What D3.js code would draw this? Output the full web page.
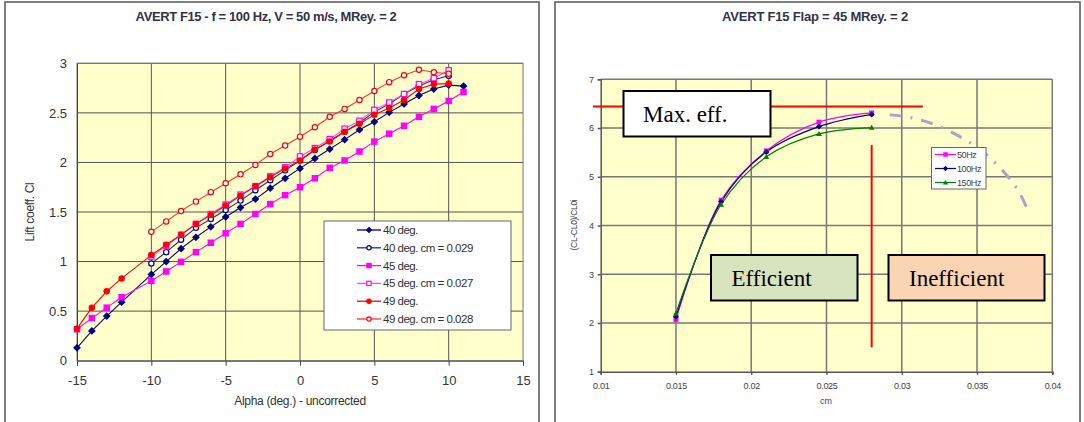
<!DOCTYPE html>
<html>
<head>
<meta charset="utf-8">
<script src="https://cdn.jsdelivr.net/npm/d3@7"></script>
<style>
  body { margin: 0; background: #fff; }
  svg { display: block; font-family: "Liberation Sans", Arial, sans-serif; }
</style>
</head>
<body>
<svg id="chart" width="1084" height="422"></svg>
<script>
// ---- left chart data: Cl vs alpha ----
const alpha40 = [-15, -14, -13, -12, -10, -9, -8, -7, -6, -5, -4, -3, -2, -1, 0, 1, 2, 3, 4, 5, 6, 7, 8, 9, 10, 11];
const cl40 = [0.13, 0.30, 0.45, 0.59, 0.87, 1.00, 1.13, 1.245, 1.35, 1.45, 1.545, 1.63, 1.74, 1.84, 1.94, 2.04, 2.135, 2.23, 2.33, 2.41, 2.505, 2.59, 2.675, 2.74, 2.78, 2.77];

const alpha40cm = [-10, -9, -8, -7, -6, -5, -4, -3, -2, -1, 0, 1, 2, 3, 4, 5, 6, 7, 8, 9, 10];
const cl40cm = [0.98, 1.095, 1.22, 1.34, 1.43, 1.52, 1.615, 1.72, 1.82, 1.92, 2.02, 2.125, 2.22, 2.31, 2.40, 2.51, 2.59, 2.69, 2.77, 2.835, 2.875];

const alpha45 = [-15, -14, -13, -12, -10, -9, -8, -7, -6, -5, -4, -3, -2, -1, 0, 1, 2, 3, 4, 5, 6, 7, 8, 9, 10, 11];
const cl45 = [0.317, 0.43, 0.535, 0.64, 0.805, 0.90, 0.997, 1.095, 1.19, 1.285, 1.38, 1.48, 1.58, 1.67, 1.75, 1.84, 1.945, 2.02, 2.11, 2.21, 2.29, 2.37, 2.46, 2.54, 2.62, 2.71];

const alpha45cm = [-10, -9, -8, -7, -6, -5, -4, -3, -2, -1, 0, 1, 2, 3, 4, 5, 6, 7, 8, 9, 10];
const cl45cm = [1.05, 1.16, 1.27, 1.38, 1.48, 1.575, 1.675, 1.76, 1.86, 1.95, 2.06, 2.145, 2.235, 2.34, 2.42, 2.53, 2.605, 2.69, 2.79, 2.85, 2.93];

const alpha49 = [-15, -14, -13, -12, -10, -9, -8, -7, -6, -5, -4, -3, -2, -1, 0, 1, 2, 3, 4, 5, 6, 7, 8, 9, 10];
const cl49 = [0.323, 0.535, 0.70, 0.83, 1.065, 1.17, 1.27, 1.38, 1.47, 1.565, 1.665, 1.76, 1.85, 1.94, 2.02, 2.13, 2.21, 2.31, 2.39, 2.48, 2.55, 2.63, 2.74, 2.79, 2.795];

const alpha49cm = [-10, -9, -8, -7, -6, -5, -4, -3, -2, -1, 0, 1, 2, 3, 4, 5, 6, 7, 8, 9, 10];
const cl49cm = [1.30, 1.405, 1.51, 1.605, 1.70, 1.79, 1.88, 1.975, 2.085, 2.17, 2.26, 2.355, 2.46, 2.54, 2.63, 2.72, 2.81, 2.88, 2.935, 2.91, 2.895];

const leftXTicks = [-15, -10, -5, 0, 5, 10, 15];
const leftYTicks = [0, 0.5, 1, 1.5, 2, 2.5, 3];

// ---- right chart data: efficiency vs cm ----
const cmValues = [0.015, 0.018, 0.021, 0.0245, 0.028];
const eff50 = [2.07, 4.52, 5.53, 6.12, 6.31];
const eff100 = [2.13, 4.49, 5.51, 6.03, 6.28];
const eff150 = [2.20, 4.43, 5.41, 5.88, 6.01];

// hand-drawn trend beyond max efficiency
const trendCm = [0.0292, 0.0305, 0.0323, 0.0341, 0.0356, 0.0370, 0.0378, 0.0384];
const trendEff = [6.27, 6.22, 6.06, 5.78, 5.46, 5.02, 4.68, 4.30];

const maxEffLevel = 6.44;
const optimumCm = 0.028;

const rightXTicks = [0.01, 0.015, 0.02, 0.025, 0.03, 0.035, 0.04];
const rightYTicks = [1, 2, 3, 4, 5, 6, 7];

const svg = d3.select("#chart");

// panel frames
svg.append("path").attr("d", "M5,422 V2 H539 V422")
  .attr("fill", "none").attr("stroke", "#555").attr("stroke-width", 1.5);
svg.append("path").attr("d", "M555,422 V2 H1080 V422")
  .attr("fill", "none").attr("stroke", "#555").attr("stroke-width", 1.5);

// marker helper
function marker(g, type, x, y, color, size) {
  if (type === "diamond") {
    const r = size * 0.6;
    g.append("path").attr("d", `M${x},${y - r}L${x + r},${y}L${x},${y + r}L${x - r},${y}Z`)
      .attr("fill", color);
  } else if (type === "square") {
    g.append("rect").attr("x", x - size / 2).attr("y", y - size / 2)
      .attr("width", size).attr("height", size).attr("fill", color);
  } else if (type === "osquare") {
    g.append("rect").attr("x", x - size / 2 + 0.6).attr("y", y - size / 2 + 0.6)
      .attr("width", size - 1.2).attr("height", size - 1.2).attr("fill", "#fff")
      .attr("stroke", color).attr("stroke-width", 1.2);
  } else if (type === "circle") {
    g.append("circle").attr("cx", x).attr("cy", y).attr("r", size / 2).attr("fill", color);
  } else if (type === "ocircle") {
    g.append("circle").attr("cx", x).attr("cy", y).attr("r", size / 2 - 0.6)
      .attr("fill", "#fff").attr("stroke", color).attr("stroke-width", 1.2);
  } else if (type === "triangle") {
    g.append("path").attr("d", d3.symbol(d3.symbolTriangle, size * size * 0.6)())
      .attr("transform", `translate(${x},${y + 0.5})`).attr("fill", color);
  }
}

// ================= LEFT CHART =================
{
  const x = d3.scaleLinear().domain([-15, 15]).range([77, 523]);
  const y = d3.scaleLinear().domain([0, 3]).range([360.7, 63.3]);
  const g = svg.append("g");

  g.append("text").attr("x", 266).attr("y", 21).attr("text-anchor", "middle")
    .attr("font-size", 13).attr("font-weight", "bold").attr("fill", "#333348")
    .attr("letter-spacing", -0.4)
    .text("AVERT F15 -  f = 100 Hz, V = 50 m/s, MRey. = 2");

  g.append("rect").attr("x", x(-15)).attr("y", y(3)).attr("width", x(15) - x(-15))
    .attr("height", y(0) - y(3)).attr("fill", "#FFFFCC");

  g.selectAll(".gx").data(leftXTicks.slice(1, -1)).join("line")
    .attr("x1", d => x(d)).attr("x2", d => x(d)).attr("y1", y(0)).attr("y2", y(3))
    .attr("stroke", "#555").attr("stroke-width", 1);
  g.selectAll(".gy").data(leftYTicks.slice(1)).join("line")
    .attr("x1", x(-15)).attr("x2", x(15)).attr("y1", d => y(d)).attr("y2", d => y(d))
    .attr("stroke", "#555").attr("stroke-width", 1);
  g.append("rect").attr("x", x(-15)).attr("y", y(3)).attr("width", x(15) - x(-15))
    .attr("height", y(0) - y(3)).attr("fill", "none").attr("stroke", "#777").attr("stroke-width", 1);

  const xAxis = g.append("g").attr("transform", `translate(0,${y(0)})`)
    .call(d3.axisBottom(x).tickValues(leftXTicks).tickSize(5).tickFormat(d => String(d)));
  const yAxis = g.append("g").attr("transform", `translate(${x(-15)},0)`)
    .call(d3.axisLeft(y).tickValues(leftYTicks).tickSize(0).tickPadding(10).tickFormat(d => String(d)));
  [xAxis, yAxis].forEach(a => {
    a.select(".domain").attr("stroke", "#444");
    a.selectAll(".tick line").attr("stroke", "#444");
    a.selectAll("text").attr("font-size", 13).attr("fill", "#333")
      .attr("font-family", "Liberation Sans, Arial, sans-serif");
  });
  xAxis.selectAll("text").attr("dy", "1.25em");

  g.append("text").attr("x", 300).attr("y", 405).attr("text-anchor", "middle")
    .attr("font-size", 12).attr("fill", "#333").attr("letter-spacing", -0.3)
    .text("Alpha (deg.) - uncorrected");
  g.append("text").attr("transform", "translate(34,212) rotate(-90)").attr("text-anchor", "middle")
    .attr("font-size", 12).attr("fill", "#333").attr("letter-spacing", -0.3)
    .text("Lift coeff. Cl");

  const series = [
    { name: "40 deg.", xs: alpha40, ys: cl40, color: "#000080", line: "#000080", m: "diamond" },
    { name: "40 deg. cm = 0.029", xs: alpha40cm, ys: cl40cm, color: "#000080", line: "#2a2a90", m: "ocircle" },
    { name: "45 deg.", xs: alpha45, ys: cl45, color: "#FF00FF", line: "#FF00FF", m: "square" },
    { name: "45 deg. cm = 0.027", xs: alpha45cm, ys: cl45cm, color: "#FF00FF", line: "#FF44FF", m: "osquare" },
    { name: "49 deg.", xs: alpha49, ys: cl49, color: "#FF0000", line: "#FF0000", m: "circle" },
    { name: "49 deg. cm = 0.028", xs: alpha49cm, ys: cl49cm, color: "#FF0000", line: "#FF3333", m: "ocircle" }
  ];
  const line = d3.line().x(d => x(d[0])).y(d => y(d[1]));
  series.forEach(s => {
    const pts = s.xs.map((v, i) => [v, s.ys[i]]);
    g.append("path").attr("d", line(pts)).attr("fill", "none")
      .attr("stroke", s.line).attr("stroke-width", 1.1);
  });
  series.forEach(s => {
    s.xs.forEach((v, i) => marker(g, s.m, x(v), y(s.ys[i]), s.color, 6.5));
  });

  // legend
  const lg = g.append("g");
  lg.append("rect").attr("x", 324).attr("y", 221).attr("width", 187).attr("height", 109)
    .attr("fill", "#fff").attr("stroke", "#666").attr("stroke-width", 1);
  series.forEach((s, i) => {
    const ly = 230 + i * 17.8;
    lg.append("line").attr("x1", 357).attr("x2", 381).attr("y1", ly).attr("y2", ly)
      .attr("stroke", s.line).attr("stroke-width", 1.3);
    marker(lg, s.m, 369, ly, s.color, 5.5);
    lg.append("text").attr("x", 383).attr("y", ly + 4).attr("font-size", 11.5)
      .attr("fill", "#333").attr("letter-spacing", -0.5).text(s.name);
  });
}

// ================= RIGHT CHART =================
{
  const x = d3.scaleLinear().domain([0.01, 0.04]).range([600.7, 1052.3]);
  const y = d3.scaleLinear().domain([1, 7]).range([371.7, 79.3]);
  const g = svg.append("g");

  g.append("text").attr("x", 815).attr("y", 21).attr("text-anchor", "middle")
    .attr("font-size", 13).attr("font-weight", "bold").attr("fill", "#333348")
    .attr("letter-spacing", -0.2)
    .text("AVERT F15 Flap = 45 MRey. = 2");

  g.append("rect").attr("x", x(0.01)).attr("y", y(7)).attr("width", x(0.04) - x(0.01))
    .attr("height", y(1) - y(7)).attr("fill", "#FFFFCC");

  g.selectAll(".gx").data(rightXTicks.slice(1)).join("line")
    .attr("x1", d => x(d)).attr("x2", d => x(d)).attr("y1", y(1)).attr("y2", y(7))
    .attr("stroke", "#777").attr("stroke-width", 1.5);
  g.selectAll(".gy").data(rightYTicks.slice(1)).join("line")
    .attr("x1", x(0.01)).attr("x2", x(0.04)).attr("y1", d => y(d)).attr("y2", d => y(d))
    .attr("stroke", "#777").attr("stroke-width", 1.5);

  const xAxis = g.append("g").attr("transform", `translate(0,${y(1)})`)
    .call(d3.axisBottom(x).tickValues(rightXTicks).tickSize(3).tickFormat(d => String(+d.toFixed(3))));
  const yAxis = g.append("g").attr("transform", `translate(${x(0.01)},0)`)
    .call(d3.axisLeft(y).tickValues(rightYTicks).tickSize(3).tickPadding(4).tickFormat(d => String(d)));
  [xAxis, yAxis].forEach(a => {
    a.select(".domain").attr("stroke", "#555").attr("stroke-width", 1.5);
    a.selectAll(".tick line").attr("stroke", "#555").attr("stroke-width", 1.5);
    a.selectAll("text").attr("font-size", 9).attr("fill", "#444").attr("letter-spacing", -0.3)
      .attr("font-family", "Liberation Sans, Arial, sans-serif");
  });
  xAxis.selectAll("text").attr("dy", "1.3em");

  g.append("text").attr("x", 826).attr("y", 404).attr("text-anchor", "middle")
    .attr("font-size", 9).attr("fill", "#444").text("cm");
  g.append("text").attr("transform", "translate(577,225) rotate(-90)").attr("text-anchor", "middle")
    .attr("font-size", 8.5).attr("fill", "#444").attr("letter-spacing", -0.3).text("(CL-CL0)/CL0i");

  // red guide lines
  g.append("line").attr("x1", 593).attr("x2", x(0.0314)).attr("y1", y(maxEffLevel)).attr("y2", y(maxEffLevel))
    .attr("stroke", "#FF0000").attr("stroke-width", 2);
  g.append("line").attr("x1", x(optimumCm)).attr("x2", x(optimumCm)).attr("y1", y(5.65)).attr("y2", y(1.5))
    .attr("stroke", "#FF0000").attr("stroke-width", 2);

  // trend
  const trendLine = d3.line().curve(d3.curveCatmullRom.alpha(0.5)).x(d => x(d[0])).y(d => y(d[1]));
  g.append("path").attr("d", trendLine(trendCm.map((v, i) => [v, trendEff[i]])))
    .attr("fill", "none").attr("stroke", "#A9A3C6").attr("stroke-width", 3)
    .attr("stroke-dasharray", "12,9,2,9");

  const series = [
    { name: "50Hz", ys: eff50, color: "#FF00FF", m: "square" },
    { name: "100Hz", ys: eff100, color: "#000080", m: "diamond" },
    { name: "150Hz", ys: eff150, color: "#008000", m: "triangle" }
  ];
  const smooth = d3.line().curve(d3.curveCatmullRom.alpha(0.5)).x(d => x(d[0])).y(d => y(d[1]));
  series.forEach(s => {
    g.append("path").attr("d", smooth(cmValues.map((v, i) => [v, s.ys[i]])))
      .attr("fill", "none").attr("stroke", s.color).attr("stroke-width", 1.2);
  });
  series.forEach(s => {
    cmValues.forEach((v, i) => marker(g, s.m, x(v), y(s.ys[i]), s.color, 5));
  });

  // annotation boxes
  const boxes = [
    { text: "Max. eff.", x: 623.5, y: 91, w: 147, h: 45.5, fill: "#fff", tx: 643 },
    { text: "Efficient", x: 711, y: 255, w: 146.5, h: 45.5, fill: "#D7E4BD", tx: 731.5 },
    { text: "Inefficient", x: 888.5, y: 255, w: 156, h: 45.5, fill: "#FBD4B4", tx: 909 }
  ];
  boxes.forEach(b => {
    g.append("rect").attr("x", b.x).attr("y", b.y).attr("width", b.w).attr("height", b.h)
      .attr("fill", b.fill).attr("stroke", "#000").attr("stroke-width", 2);
    g.append("text").attr("x", b.tx).attr("y", b.y + 31).attr("font-size", 23)
      .attr("font-family", "Liberation Serif, Times New Roman, serif").attr("fill", "#000")
      .text(b.text);
  });

  // legend
  const lg = g.append("g");
  lg.append("rect").attr("x", 931.5).attr("y", 147.5).attr("width", 54.5).attr("height", 41.5)
    .attr("fill", "#fff").attr("stroke", "#666").attr("stroke-width", 1);
  series.forEach((s, i) => {
    const ly = 154.5 + i * 14;
    lg.append("line").attr("x1", 935).attr("x2", 956).attr("y1", ly).attr("y2", ly)
      .attr("stroke", s.color).attr("stroke-width", 1.2);
    marker(lg, s.m, 945.5, ly, s.color, 4.5);
    lg.append("text").attr("x", 957).attr("y", ly + 3.3).attr("font-size", 9)
      .attr("fill", "#444").attr("letter-spacing", -0.4).text(s.name);
  });
}
</script>
</body>
</html>
